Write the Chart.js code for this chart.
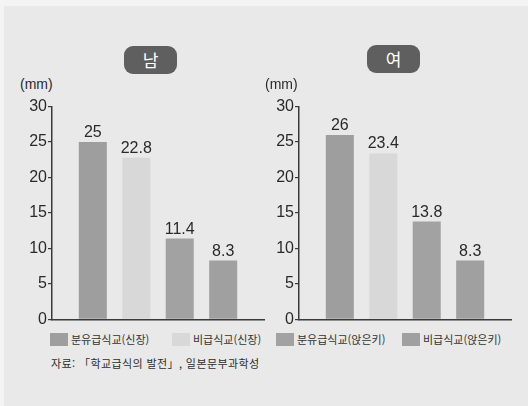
<!DOCTYPE html>
<html lang="ko">
<head>
<meta charset="utf-8">
<script src="https://cdn.jsdelivr.net/npm/chart.js@4/dist/chart.umd.min.js"></script>
<style>
  html, body { margin: 0; padding: 0; }
  body {
    width: 528px; height: 406px; position: relative; overflow: hidden;
    background: #f4f4f4;
    font-family: 'Noto Sans CJK KR', 'Liberation Sans', sans-serif;
    color: #2e2e2e;
  }
  #panel { position: absolute; left: 4px; top: 6px; right: 0; bottom: 0; background: #e9e9e9; }
  .chart { position: absolute; top: 96px; }
  .title {
    position: absolute; width: 53px; height: 28px; border-radius: 9px;
    background: #5f5f5f; color: #fff; font-size: 17px; line-height: 28px; text-align: center;
  }
  .unit { position: absolute; top: 76px; font-family: 'Liberation Sans', sans-serif; font-size: 14px; color: #2a2a2a; }
  .legend-item { position: absolute; top: 333px; height: 13px; font-size: 11px; line-height: 13px; white-space: nowrap; color: #333; }
  .legend-item i { display: inline-block; width: 18px; height: 13px; vertical-align: top; margin-right: 3px; }
  .source { position: absolute; left: 51px; top: 355px; font-size: 11px; color: #2e2e2e; white-space: nowrap; letter-spacing: 0.4px; }
</style>
</head>
<body>
<div id="panel"></div>
<script>
// Growth of children: school-milk schools vs. others (mm)
const genders = ['남', '여'];
const seriesNames = ['분유급식교(신장)', '비급식교(신장)', '분유급식교(앉은키)', '비급식교(앉은키)'];
const maleValues = [25, 22.8, 11.4, 8.3];
const femaleValues = [26, 23.4, 13.8, 8.3];
const yTickValues = [0, 5, 10, 15, 20, 25, 30];
const unitLabel = '(mm)';
const sourceText = '자료: 「학교급식의 발전」, 일본문부과학성';

const seriesColors = ['#9e9e9e', '#d8d8d8', '#a2a2a2', '#a0a0a0'];
const chartLefts = [0, 247];
const titleBoxes = [{ left: 124, top: 46 }, { left: 367, top: 45 }];
const unitLefts = [20, 265];
const legendLefts = [50, 172, 276, 402];

const textFont = { family: "'Liberation Sans', Arial, sans-serif", size: 16 };

// value written above each bar
const valueLabels = {
  id: 'valueLabels',
  afterDatasetsDraw(chart) {
    const ctx = chart.ctx;
    ctx.save();
    ctx.font = "16px 'Liberation Sans', Arial, sans-serif";
    ctx.fillStyle = '#2a2a2a';
    ctx.textAlign = 'center';
    ctx.textBaseline = 'alphabetic';
    chart.data.datasets.forEach((ds, i) => {
      chart.getDatasetMeta(i).data.forEach((bar, j) => {
        ctx.fillText(String(ds.data[j]), bar.x, bar.y - 5);
      });
    });
    ctx.restore();
  }
};

function makeChart(index, values) {
  const canvas = document.createElement('canvas');
  canvas.className = 'chart';
  canvas.width = 270;
  canvas.height = 234;
  canvas.style.left = chartLefts[index] + 'px';
  document.body.appendChild(canvas);

  new Chart(canvas, {
    type: 'bar',
    data: {
      labels: [genders[index]],
      datasets: seriesNames.map((name, i) => ({
        label: name,
        data: [values[i]],
        backgroundColor: seriesColors[i],
        borderWidth: 0,
        categoryPercentage: 0.82,
        barPercentage: 0.645
      }))
    },
    options: {
      responsive: false,
      animation: false,
      layout: { padding: { top: 10, bottom: 10, left: 0, right: 6 } },
      plugins: { legend: { display: false }, tooltip: { enabled: false }, title: { display: false } },
      scales: {
        x: {
          afterFit: s => { s.height = 0; },
          grid: { display: false, drawTicks: false },
          border: { display: true, color: '#3a3a3a', width: 1.5 },
          ticks: { display: false }
        },
        y: {
          min: 0,
          max: 30,
          afterBuildTicks: s => { s.ticks = yTickValues.map(v => ({ value: v })); },
          afterFit: s => { s.width = 52; },
          grid: { display: true, drawOnChartArea: false, drawTicks: true, tickLength: 4, color: '#3a3a3a', lineWidth: 1.2 },
          border: { display: true, color: '#3a3a3a', width: 1.5 },
          ticks: { padding: 1, color: '#2a2a2a', font: textFont }
        }
      }
    },
    plugins: [valueLabels]
  });
}

makeChart(0, maleValues);
makeChart(1, femaleValues);

// gender badges and unit captions
genders.forEach((g, i) => {
  const t = document.createElement('div');
  t.className = 'title';
  t.textContent = g;
  t.style.left = titleBoxes[i].left + 'px';
  t.style.top = titleBoxes[i].top + 'px';
  document.body.appendChild(t);

  const u = document.createElement('div');
  u.className = 'unit';
  u.textContent = unitLabel;
  u.style.left = unitLefts[i] + 'px';
  document.body.appendChild(u);
});

// legend row
seriesNames.forEach((name, i) => {
  const item = document.createElement('div');
  item.className = 'legend-item';
  item.style.left = legendLefts[i] + 'px';
  const sw = document.createElement('i');
  sw.style.background = seriesColors[i];
  item.appendChild(sw);
  item.appendChild(document.createTextNode(name));
  document.body.appendChild(item);
});

const src = document.createElement('div');
src.className = 'source';
src.textContent = sourceText;
document.body.appendChild(src);
</script>
</body>
</html>
